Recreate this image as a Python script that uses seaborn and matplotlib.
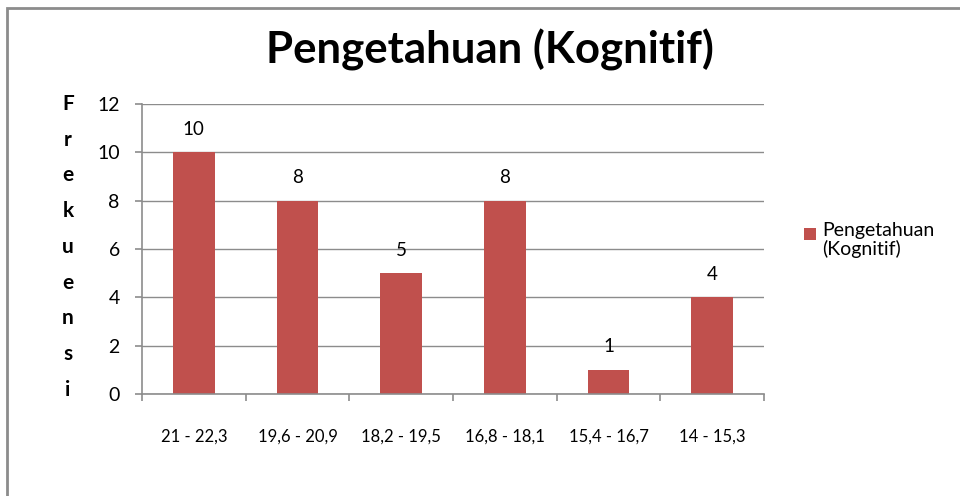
import matplotlib
matplotlib.use("Agg")
import matplotlib.pyplot as plt
import seaborn as sns
import pandas as pd
from matplotlib.patches import Rectangle

categories = ["21 - 22,3", "19,6 - 20,9", "18,2 - 19,5", "16,8 - 18,1", "15,4 - 16,7", "14 - 15,3"]
values = [10, 8, 5, 8, 1, 4]
series_name = "Pengetahuan (Kognitif)"
ylabel_letters = list("Frekuensi")
yticks = [0, 2, 4, 6, 8, 10, 12]

sns.set_theme(style="white")
plt.rcParams["font.family"] = ["Lato", "DejaVu Sans"]

W, H = 960, 496
fig = plt.figure(figsize=(9.6, 4.96), dpi=100)
ax = fig.add_axes([142 / W, 1 - 394 / H, (764 - 142) / W, (394 - 104) / H])

df = pd.DataFrame({"cat": categories, "val": values})
bar_color = "#C0504D"
sns.barplot(data=df, x="cat", y="val", color=bar_color, width=0.4, ax=ax, saturation=1, linewidth=0)

ax.set_ylim(0, 12)
ax.set_xlim(-0.5, len(categories) - 0.5)
ax.set_yticks(yticks)
ax.yaxis.grid(True, color="#8c8c8c", linewidth=1)
ax.set_axisbelow(True)
ax.set_xlabel("")
ax.set_ylabel("")
for s in ["top", "right"]:
    ax.spines[s].set_visible(False)
for s in ["left", "bottom"]:
    ax.spines[s].set_color("#8c8c8c")
    ax.spines[s].set_linewidth(1.2)

ax.tick_params(axis="y", which="both", left=True, length=5, width=1.2, color="#8c8c8c", labelsize=14,
               pad=11, labelcolor="black")
ax.set_xticks([i for i in range(len(categories))])
ax.set_xticklabels(categories, fontsize=12, color="black")
ax.tick_params(axis="x", which="major", bottom=False, pad=19)
ax.set_xticks([i - 0.5 for i in range(len(categories) + 1)], minor=True)
ax.tick_params(axis="x", which="minor", bottom=True, length=5, width=1.2, color="#8c8c8c")

for i, v in enumerate(values):
    ax.text(i, v + 0.6, str(v), ha="center", va="bottom", fontsize=13.5, color="black")

fig.text(490 / W, 1 - 50 / H, "Pengetahuan (Kognitif)", ha="center", va="center",
         fontsize=31.5, fontweight="bold", color="black")

top_y, bot_y = 104, 390
n = len(ylabel_letters)
for k, ch in enumerate(ylabel_letters):
    yy = top_y + (bot_y - top_y) * k / (n - 1)
    fig.text(68 / W, 1 - yy / H, ch, ha="center", va="center", fontsize=15, fontweight="bold", color="black")

# legend
fig.patches.append(Rectangle((804 / W, 1 - 240 / H), 12 / W, 12 / H, transform=fig.transFigure,
                             facecolor=bar_color, edgecolor="none"))
fig.text(822 / W, 1 - 222 / H, "Pengetahuan\n(Kognitif)", ha="left", va="top", fontsize=14,
         color="black", linespacing=1.05, transform=fig.transFigure)

# outer frame
fig.patches.append(Rectangle((7 / W, -0.05), 1.1, 1 - 8 / H + 0.05, transform=fig.transFigure,
                             facecolor="none", edgecolor="#8c8c8c", linewidth=2))

fig.savefig("out.png", dpi=100)
